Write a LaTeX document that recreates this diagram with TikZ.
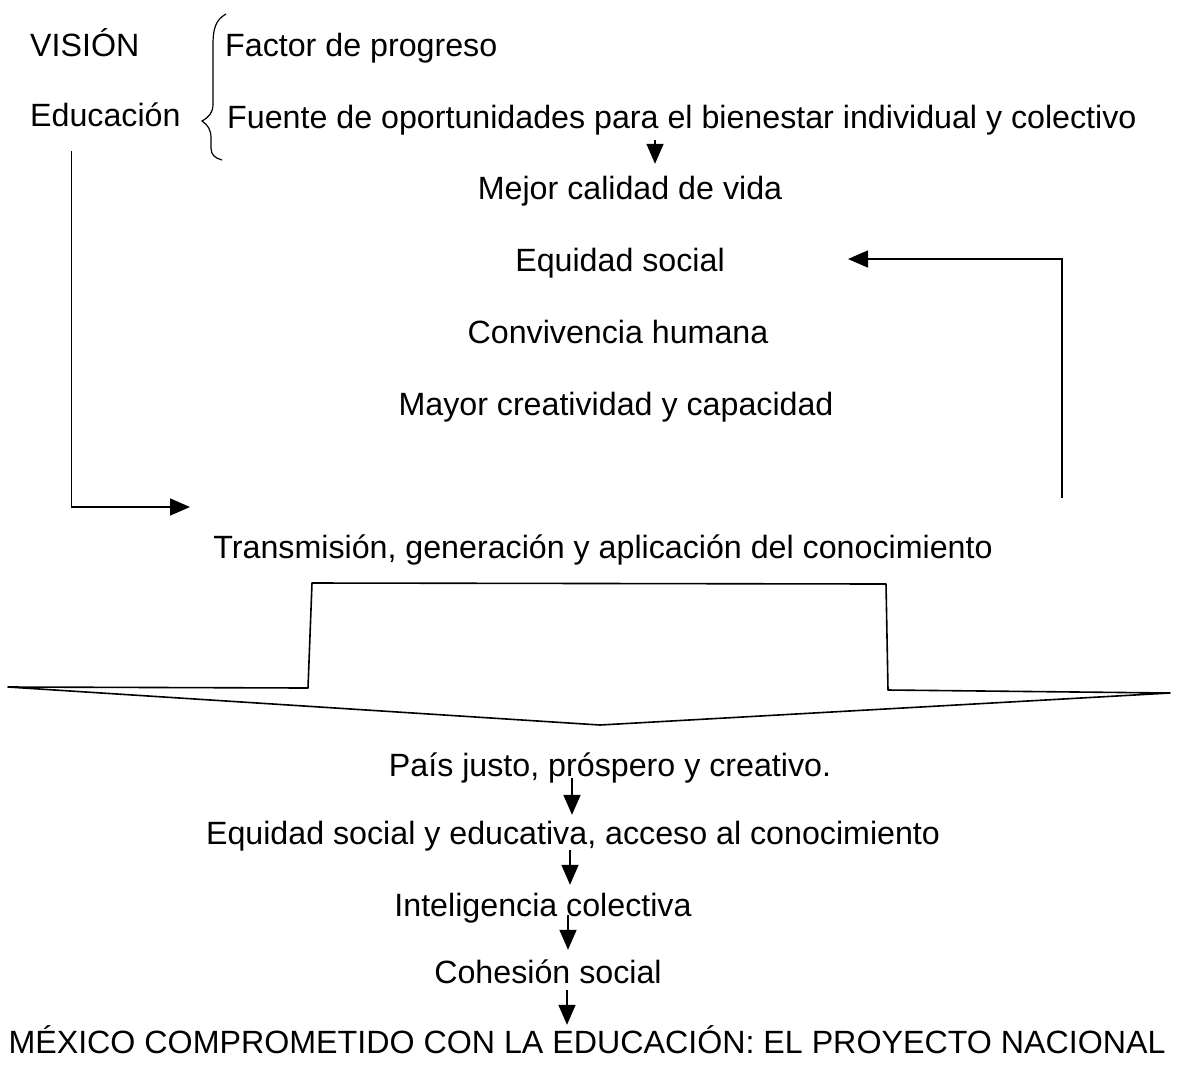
\documentclass[tikz,border=0pt]{standalone}
\usepackage{fontspec}
\setmainfont{Liberation Sans}
\usepackage{tikz}
\usetikzlibrary{positioning}
\usetikzlibrary{arrows.meta, calc}

\begin{document}
\begin{tikzpicture}[x=1pt,y=-1pt,
        texto/.style={inner sep=0pt, text height=23pt, text depth=7pt,
            font=\fontsize{32.2}{38}\selectfont},
        linea/.style={line width=1.6pt},
        flecha/.style={line width=1.6pt, -{Triangle[length=20pt,width=17pt]}}]
            \useasboundingbox (0,0) rectangle (1177,1069);
            % encabezado
            \node[texto, anchor=west] (vision) at (30,48) {VISIÓN};
            \node[texto, anchor=west] (educacion) at (30,118) {Educación};
            \node[texto, anchor=west] (factor) at (225,48) {Factor de progreso};
            \node[texto, anchor=west] (fuente) at (227,120) {Fuente de oportunidades para el bienestar individual y colectivo};
            \draw[line width=1.2pt] (226,14) .. controls (215,20) and (213,30) .. (213,45)
                -- (213,104) .. controls (213,113) and (209,117) .. (202,121)
                .. controls (208,125) and (211,130) .. (211,138)
                -- (211,148) .. controls (211,155) and (215,158) .. (222,160);
            % logros
            \node[texto] (mejor) at (630,191) {Mejor calidad de vida};
            \node[texto] (equidad) at (620,263) {Equidad social};
            \node[texto] (convivencia) at (618,335) {Convivencia humana};
            \node[texto] (mayor) at (616,407) {Mayor creatividad y capacidad};
            \node[texto] (transmision) at (603,550) {Transmisión, generación y aplicación del conocimiento};
            \coordinate (ejeA) at (655,0);
            \draw[flecha, shorten <=5pt, shorten >=12pt] (ejeA |- fuente.south) -- (ejeA |- mejor.north);
            % conectores laterales
            \coordinate (entrada) at (190,507);
            \coordinate (retorno) at (1062,498);
            \coordinate (llegada) at (848,259);
            \draw[flecha] ([xshift=-34pt,yshift=-18pt]educacion.south) |- (entrada);
            \draw[flecha] (retorno) |- (llegada);
            % flecha ancha
            \draw[linea, line join=round] (8,687) -- (308,688) -- (312,583) -- (886,584)
                -- (888,690) -- (1170,693) -- (600,725) -- cycle;
            % cadena inferior
            \node[texto] (pais) at (610,768) {País justo, próspero y creativo.};
            \node[texto] (equidadedu) at (573,836) {Equidad social y educativa, acceso al conocimiento};
            \node[texto] (inteligencia) at (543,908) {Inteligencia colectiva};
            \node[texto] (cohesion) at (548,975) {Cohesión social};
            \node[texto] (mexico) at (587,1045) {MÉXICO COMPROMETIDO CON LA EDUCACIÓN: EL PROYECTO NACIONAL};
            \coordinate (ejeB) at (572,0);
            \coordinate (ejeC) at (570,0);
            \coordinate (ejeD) at (568,0);
            \coordinate (ejeE) at (567,0);
            \draw[flecha, shorten <=-5pt, shorten >=6pt] (ejeB |- pais.south) -- (ejeB |- equidadedu.north);
            \draw[flecha, shorten <=-1pt, shorten >=8pt] (ejeC |- equidadedu.south) -- (ejeC |- inteligencia.north);
            \draw[flecha, shorten <=-8pt, shorten >=10pt] (ejeD |- inteligencia.south) -- (ejeD |- cohesion.north);
            \draw[flecha, shorten >=5pt] (ejeE |- cohesion.south) -- (ejeE |- mexico.north);
        \end{tikzpicture}
\end{document}
